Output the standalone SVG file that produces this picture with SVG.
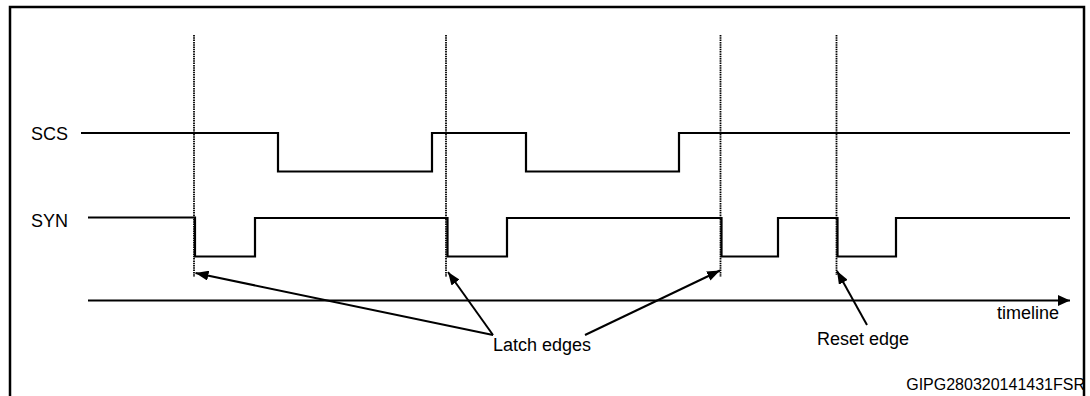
<svg xmlns="http://www.w3.org/2000/svg" width="1090" height="396" viewBox="0 0 1090 396">
<style>
.t{font-family:"Liberation Sans",Arial,sans-serif;font-size:18px;fill:#000}
.wave{fill:none;stroke:#000;stroke-width:2.2;stroke-linejoin:miter}
.dot{stroke:#000;stroke-width:1.8;stroke-dasharray:1.5 0.8}
.arr{stroke:#000;stroke-width:2;fill:none;marker-end:url(#ah)}
</style>
<defs>
<marker id="ah" markerUnits="userSpaceOnUse" markerWidth="14" markerHeight="10" refX="13" refY="5" orient="auto">
<path d="M0,0 L13,5 L0,10 Z" fill="#000"/>
</marker>
<marker id="tl" markerUnits="userSpaceOnUse" markerWidth="13" markerHeight="11" refX="12" refY="5.5" orient="auto">
<path d="M0,0 L12,5.5 L0,11 Z" fill="#000"/>
</marker>
</defs>
<rect width="1090" height="396" fill="#fff"/>
<rect id="frame" x="10" y="7" width="1074" height="400" fill="none" stroke="#000" stroke-width="2.5"/>
<g id="edges">
<line class="dot" x1="194" y1="35" x2="194" y2="277"/>
<line class="dot" x1="446" y1="35" x2="446" y2="277"/>
<line class="dot" x1="720.5" y1="35" x2="720.5" y2="277"/>
<line class="dot" x1="836.5" y1="35" x2="836.5" y2="275"/>
</g>
<g id="scs">
<text class="t" x="31" y="139.5">SCS</text>
<polyline class="wave" points="81,133 278,133 278,171.5 432,171.5 432,133 526,133 526,171.5 679,171.5 679,133 1070,133"/>
</g>
<g id="syn">
<text class="t" x="31" y="226.5">SYN</text>
<polyline class="wave" points="88,217.5 195,217.5 195,256.5 255,256.5 255,218 447.5,218 447.5,256.5 507,256.5 507,218 721.5,218 721.5,256.5 778,256.5 778,218 837.5,218 837.5,256.5 896,256.5 896,218 1070,218"/>
</g>
<g id="timeline">
<line x1="88" y1="300.5" x2="1070" y2="300.5" stroke="#000" stroke-width="2.2" marker-end="url(#tl)"/>
<text class="t" x="997" y="319">timeline</text>
</g>
<g id="connectors">
<line class="arr" x1="493" y1="335" x2="195.5" y2="273"/>
<line class="arr" x1="493" y1="335" x2="448" y2="272"/>
<line class="arr" x1="585" y1="335" x2="720" y2="270.5"/>
<line class="arr" x1="867" y1="325" x2="837" y2="271"/>
</g>
<g id="latch-label"><text class="t" x="493" y="350.5">Latch edges</text></g>
<g id="reset-label"><text class="t" x="817" y="344.5">Reset edge</text></g>
<g id="code"><text class="t" x="1085" y="389.5" text-anchor="end" style="font-size:16px">GIPG280320141431FSR</text></g>
</svg>
